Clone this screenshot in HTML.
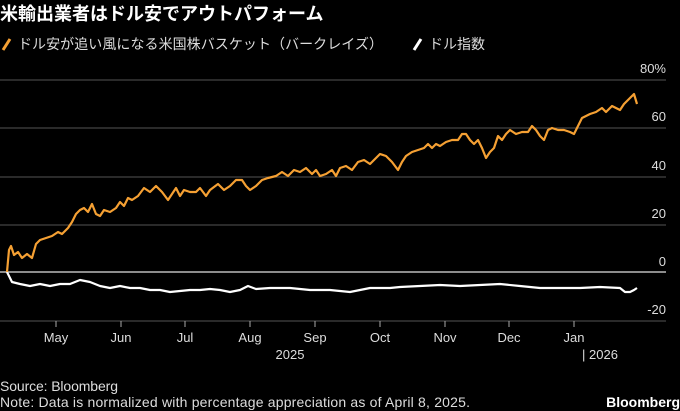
<!DOCTYPE html>
<html><head><meta charset="utf-8"><style>
body{margin:0;background:#000;width:680px;height:411px;overflow:hidden;font-family:"Liberation Sans","Noto Sans CJK JP",sans-serif;}
</style></head><body>
<svg width="680" height="411" xmlns="http://www.w3.org/2000/svg" style="position:absolute;left:0;top:0">
<text x="0" y="20" fill="#fff" font-size="18" font-weight="bold" font-family="Liberation Sans, Noto Sans CJK JP, sans-serif">米輸出業者はドル安でアウトパフォーム</text>
<line x1="3" y1="50" x2="10" y2="39" stroke="#f5a033" stroke-width="3"/>
<text x="18" y="49" fill="#ddd" font-size="14" textLength="365" font-family="Liberation Sans, Noto Sans CJK JP, sans-serif">ドル安が追い風になる米国株バスケット（バークレイズ）</text>
<line x1="414" y1="50" x2="421" y2="39" stroke="#fff" stroke-width="3"/>
<text x="429" y="49" fill="#ddd" font-size="14" font-family="Liberation Sans, Noto Sans CJK JP, sans-serif">ドル指数</text>
<g stroke="#555" stroke-width="1">
<line x1="0" y1="80" x2="666" y2="80"/><line x1="0" y1="128" x2="666" y2="128"/><line x1="0" y1="177" x2="666" y2="177"/><line x1="0" y1="225" x2="666" y2="225"/><line x1="0" y1="321" x2="666" y2="321"/>
</g>
<line x1="0" y1="272" x2="666" y2="272" stroke="#bbb" stroke-width="1.5"/>
<g fill="#ddd" font-size="13" text-anchor="end" font-family="Liberation Sans, sans-serif">
<text x="666" y="73">80%</text><text x="666" y="121">60</text><text x="666" y="170">40</text><text x="666" y="218">20</text><text x="666" y="266">0</text><text x="666" y="314">-20</text>
</g>
<g stroke="#aaa" stroke-width="1">
<line x1="56" y1="321" x2="56" y2="327"/><line x1="121" y1="321" x2="121" y2="327"/><line x1="185" y1="321" x2="185" y2="327"/><line x1="250" y1="321" x2="250" y2="327"/><line x1="315" y1="321" x2="315" y2="327"/><line x1="380" y1="321" x2="380" y2="327"/><line x1="445" y1="321" x2="445" y2="327"/><line x1="509" y1="321" x2="509" y2="327"/><line x1="574" y1="321" x2="574" y2="327"/>
</g>
<g fill="#ddd" font-size="13" text-anchor="middle" font-family="Liberation Sans, sans-serif">
<text x="56" y="342">May</text><text x="121" y="342">Jun</text><text x="185" y="342">Jul</text><text x="250" y="342">Aug</text><text x="315" y="342">Sep</text><text x="380" y="342">Oct</text><text x="445" y="342">Nov</text><text x="509" y="342">Dec</text><text x="574" y="342">Jan</text>
<text x="290" y="359">2025</text><text x="600" y="359">|  2026</text>
</g>
<polyline fill="none" stroke="#fff" stroke-width="2.2" stroke-linejoin="round" points="7,272 12,282 20,284 30,286 40,284 50,286 60,284 70,284 80,280 90,282 100,286 110,288 120,286 130,288 140,288 150,290 160,290 170,292 180,291 190,290 200,290 210,289 220,290 230,292 240,290 248,286 256,289 270,288 290,288 310,290 330,290 350,292 360,290 370,288 390,288 400,287 420,286 440,285 460,286 480,285 500,284 520,286 540,288 560,288 580,288 600,287 620,288 625,292 630,292 634,290 637,288"/>
<polyline fill="none" stroke="#f5a033" stroke-width="2.2" stroke-linejoin="round" points="7,272 9,250 11,246 14,255 18,252 22,258 27,254 32,258 36,244 40,240 46,238 52,236 58,232 62,234 68,228 72,222 76,214 80,210 84,208 88,212 92,204 96,214 100,216 104,210 110,212 116,208 120,202 124,206 128,198 132,200 138,196 144,188 150,192 156,186 162,192 168,200 172,194 176,188 180,196 184,190 190,192 196,192 200,188 206,196 210,190 218,184 224,190 230,186 236,180 242,180 246,186 250,190 256,186 262,180 268,178 276,176 282,172 288,176 294,170 300,172 306,168 312,174 316,170 320,176 326,174 332,170 336,176 340,168 346,166 352,170 358,162 364,160 370,164 376,158 380,154 386,156 392,162 398,170 402,162 406,156 412,152 418,150 424,148 428,144 432,148 436,144 440,146 446,142 452,140 458,140 462,134 466,134 470,140 474,144 478,140 482,148 486,158 490,152 494,148 498,136 502,140 506,134 510,130 516,134 522,132 528,132 532,126 536,130 540,136 544,140 548,130 552,128 558,130 564,130 570,132 574,134 578,126 582,118 586,116 590,114 596,112 602,108 606,112 612,106 616,108 620,110 624,104 628,100 632,96 634,94 637,104"/>
<g fill="#ddd" font-size="14" font-family="Liberation Sans, sans-serif">
<text x="0" y="391" textLength="118">Source: Bloomberg</text>
<text x="0" y="407" textLength="470">Note: Data is normalized with percentage appreciation as of April 8, 2025.</text>
</g>
<text x="680" y="407" fill="#fff" font-size="14" font-weight="bold" text-anchor="end" font-family="Liberation Sans, sans-serif">Bloomberg</text>
</svg>
</body></html>
